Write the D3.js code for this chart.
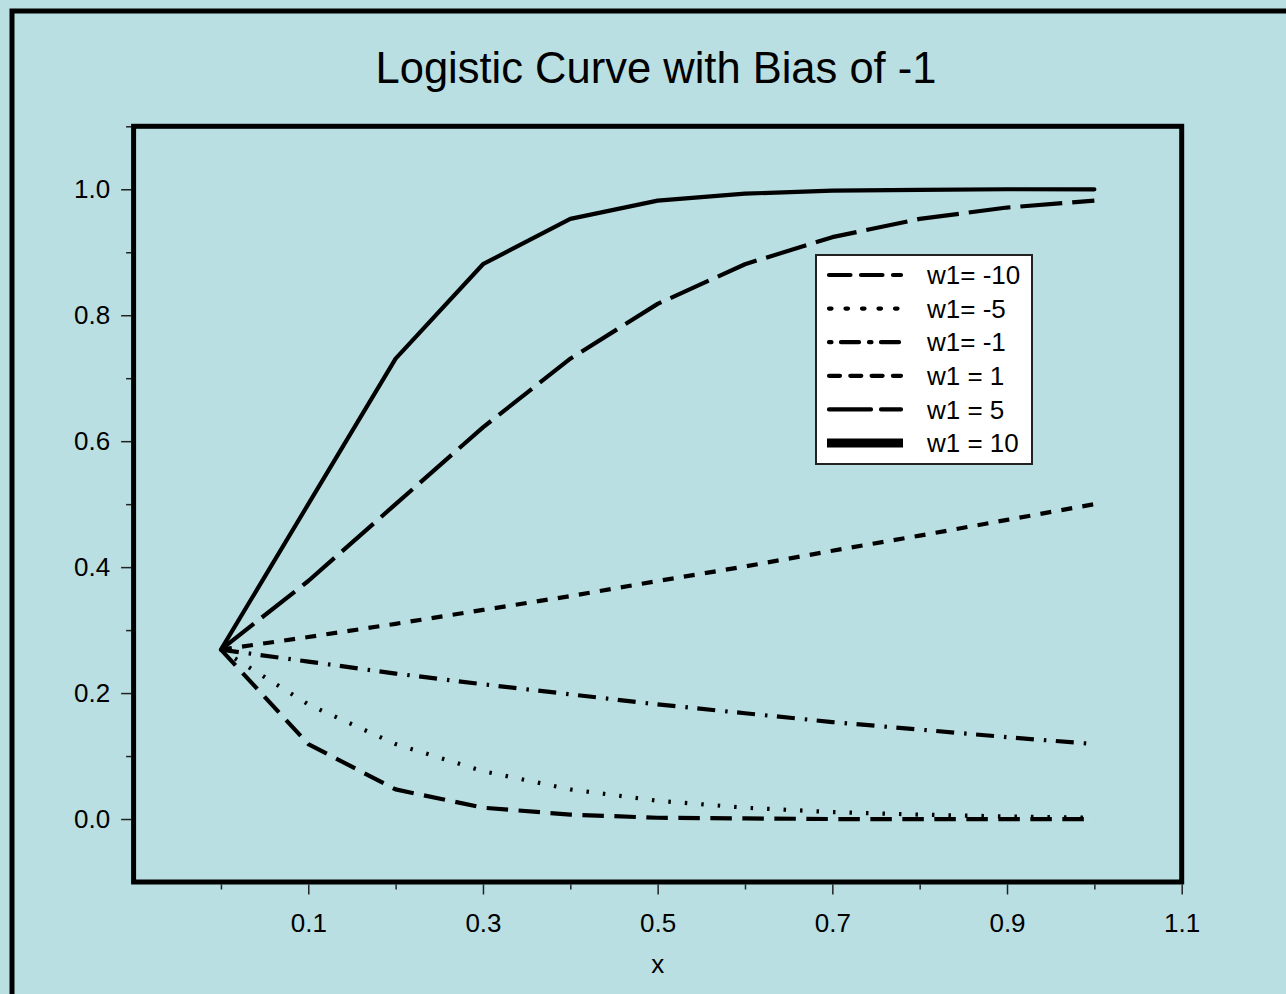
<!DOCTYPE html>
<html>
<head>
<meta charset="utf-8">
<script src="https://cdn.jsdelivr.net/npm/d3@7/dist/d3.min.js"></script>
<style>
  html, body { margin: 0; padding: 0; background: #B9DFE2; }
  svg { display: block; }
  text { font-family: "Liberation Sans", Arial, sans-serif; fill: #000; }
</style>
</head>
<body>
<svg id="chart" width="1286" height="994"></svg>
<script>
// ---- data ----
const xValues = [0, 0.1, 0.2, 0.3, 0.4, 0.5, 0.6, 0.7, 0.8, 0.9, 1.0];
const seriesNames = ["w1= -10", "w1= -5", "w1= -1", "w1 = 1", "w1 = 5", "w1 = 10"];
const wNeg10 = [0.269, 0.119, 0.047, 0.018, 0.007, 0.002, 0.001, 0.000, 0.000, 0.000, 0.000];
const wNeg5  = [0.269, 0.182, 0.119, 0.076, 0.047, 0.029, 0.018, 0.011, 0.007, 0.004, 0.002];
const wNeg1  = [0.269, 0.250, 0.231, 0.214, 0.198, 0.182, 0.168, 0.154, 0.142, 0.130, 0.119];
const wPos1  = [0.269, 0.289, 0.310, 0.332, 0.354, 0.378, 0.401, 0.426, 0.450, 0.475, 0.500];
const wPos5  = [0.269, 0.378, 0.500, 0.622, 0.731, 0.818, 0.881, 0.924, 0.953, 0.971, 0.982];
const wPos10 = [0.269, 0.500, 0.731, 0.881, 0.953, 0.982, 0.993, 0.998, 0.999, 1.000, 1.000];
const xMajorTicks = [0.1, 0.3, 0.5, 0.7, 0.9, 1.1];
const xMinorTicks = [0.0, 0.2, 0.4, 0.6, 0.8, 1.0];
const yMajorTicks = [0.0, 0.2, 0.4, 0.6, 0.8, 1.0];
const yMinorTicks = [0.1, 0.3, 0.5, 0.7, 0.9, 1.1];
const titleText = "Logistic Curve with Bias of -1";
const xLabel = "x";

// ---- styles ----
const allSeries = [wNeg10, wNeg5, wNeg1, wPos1, wPos5, wPos10];
const dashes = ["21.5,10.5", "2.5,14", "18,10,2.5,9.5", "11,10.3", "42,10", null];
const legendOffsets = [0, 0, 28, 0, 0, 0];

const svg = d3.select("#chart");
svg.append("rect").attr("x", 0).attr("y", 0).attr("width", 1286).attr("height", 994).attr("fill", "#B9DFE2");
// outer frame (clipped at right/bottom)
svg.append("rect").attr("x", 12).attr("y", 11).attr("width", 1400).attr("height", 1100)
  .attr("fill", "none").attr("stroke", "#000").attr("stroke-width", 5);

const x = d3.scaleLinear().domain([-0.1, 1.1]).range([133.6, 1181.7]);
const y = d3.scaleLinear().domain([-0.1, 1.1]).range([882, 126.3]);

// title
svg.append("text").attr("x", 656).attr("y", 83).attr("text-anchor", "middle")
  .style("font-size", "43.5px").text(titleText);

// axes
const axisX0 = x(-0.1) - 2.5;
const axisY0 = y(-0.1) + 2.5;
const fmt = d3.format(".1f");

const yMaj = svg.append("g").attr("transform", `translate(${axisX0},0)`)
  .call(d3.axisLeft(y).tickValues(yMajorTicks).tickSize(10).tickPadding(11).tickFormat(fmt));
const yMin = svg.append("g").attr("transform", `translate(${axisX0},0)`)
  .call(d3.axisLeft(y).tickValues(yMinorTicks).tickSize(5).tickFormat(""));
const xMaj = svg.append("g").attr("transform", `translate(0,${axisY0})`)
  .call(d3.axisBottom(x).tickValues(xMajorTicks).tickSize(10).tickPadding(19).tickFormat(fmt));
const xMin = svg.append("g").attr("transform", `translate(0,${axisY0})`)
  .call(d3.axisBottom(x).tickValues(xMinorTicks).tickSize(5).tickFormat(""));
[yMaj, yMin, xMaj, xMin].forEach(g => {
  g.select(".domain").remove();
  g.selectAll(".tick line").attr("stroke", "#222").attr("stroke-width", 1.5);
  g.selectAll(".tick text").style("font-size", "26px").attr("fill", "#000")
   .style("font-family", '"Liberation Sans", Arial, sans-serif');
});

svg.append("text").attr("x", (x(-0.1) + x(1.1)) / 2).attr("y", 973).attr("text-anchor", "middle")
  .style("font-size", "26px").text(xLabel);

// series
const line = d3.line().x((d, i) => x(xValues[i])).y(d => y(d));
const plot = svg.append("g");
allSeries.forEach((s, k) => {
  plot.append("path").datum(s).attr("d", line)
    .attr("fill", "none").attr("stroke", "#000").attr("stroke-width", 4.2)
    .attr("stroke-linejoin", "round")
    .attr("stroke-linecap", k === 5 ? "round" : "butt")
    .attr("stroke-dasharray", dashes[k]);
});

// plot frame
svg.append("rect").attr("x", x(-0.1)).attr("y", y(1.1))
  .attr("width", x(1.1) - x(-0.1)).attr("height", y(-0.1) - y(1.1))
  .attr("fill", "none").attr("stroke", "#000").attr("stroke-width", 5);

// legend
const lg = svg.append("g");
lg.append("rect").attr("x", 816).attr("y", 255).attr("width", 216).attr("height", 209)
  .attr("fill", "#fff").attr("stroke", "#222").attr("stroke-width", 2);
seriesNames.forEach((name, k) => {
  const ly = 275 + k * 33.6;
  lg.append("line")
    .attr("x1", k === 5 ? 827 : 829).attr("x2", k === 5 ? 903 : 901)
    .attr("y1", ly).attr("y2", ly)
    .attr("stroke", "#000").attr("stroke-width", k === 5 ? 9 : 4.2)
    .attr("stroke-linecap", k === 5 ? "butt" : "round")
    .attr("stroke-dasharray", dashes[k])
    .attr("stroke-dashoffset", legendOffsets[k]);
  lg.append("text").attr("x", 927).attr("y", ly).attr("dy", "0.35em")
    .style("font-size", "26px").text(name);
});
</script>
</body>
</html>
